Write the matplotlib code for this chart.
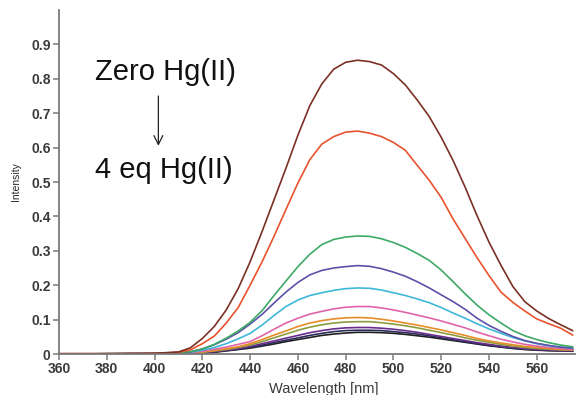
import numpy as np
import matplotlib.pyplot as plt

plt.rcParams['font.family'] = ['Liberation Sans', 'DejaVu Sans']

# wavelength grid (nm)
wl = [360, 370, 380, 390, 400, 405, 410, 415, 420, 425, 430, 435, 440, 445, 450, 455,
      460, 465, 470, 475, 480, 485, 490, 495, 500, 505, 510, 515, 520, 525, 530, 535,
      540, 545, 550, 555, 560, 565, 570, 575]

# emission intensities, zero Hg(II) -> 4 eq Hg(II)
zero_eq = [0.001, 0.001, 0.001, 0.002, 0.002, 0.004, 0.006, 0.018, 0.045, 0.080, 0.128, 0.190,
           0.268, 0.356, 0.448, 0.540, 0.636, 0.722, 0.785, 0.828, 0.848, 0.854, 0.850, 0.840,
           0.815, 0.782, 0.738, 0.690, 0.630, 0.562, 0.485, 0.402, 0.325, 0.258, 0.196, 0.152,
           0.125, 0.103, 0.085, 0.068]
s1 = [0.001, 0.001, 0.001, 0.001, 0.002, 0.003, 0.005, 0.012, 0.030, 0.052, 0.090, 0.135,
      0.200, 0.268, 0.342, 0.420, 0.497, 0.565, 0.610, 0.632, 0.645, 0.648, 0.642, 0.632,
      0.615, 0.592, 0.548, 0.505, 0.455, 0.392, 0.336, 0.280, 0.228, 0.180, 0.150, 0.125,
      0.102, 0.088, 0.075, 0.055]
s2 = [0.0, 0.0, 0.001, 0.001, 0.001, 0.002, 0.004, 0.007, 0.014, 0.028, 0.046, 0.067,
      0.092, 0.126, 0.170, 0.212, 0.254, 0.290, 0.318, 0.333, 0.340, 0.343, 0.342, 0.335,
      0.324, 0.310, 0.292, 0.272, 0.244, 0.210, 0.175, 0.142, 0.114, 0.090, 0.068, 0.053,
      0.042, 0.033, 0.026, 0.021]
s3 = [0.0, 0.0, 0.001, 0.001, 0.001, 0.001, 0.003, 0.006, 0.015, 0.027, 0.043, 0.062,
      0.087, 0.115, 0.148, 0.180, 0.208, 0.230, 0.243, 0.250, 0.254, 0.257, 0.255, 0.248,
      0.238, 0.226, 0.210, 0.192, 0.172, 0.152, 0.130, 0.104, 0.083, 0.066, 0.051, 0.039,
      0.031, 0.025, 0.020, 0.017]
s4 = [0.0, 0.0, 0.0, 0.001, 0.001, 0.001, 0.002, 0.005, 0.011, 0.019, 0.030, 0.044,
      0.060, 0.084, 0.112, 0.138, 0.157, 0.170, 0.178, 0.185, 0.190, 0.192, 0.191, 0.186,
      0.178, 0.170, 0.160, 0.149, 0.135, 0.119, 0.104, 0.088, 0.073, 0.060, 0.048, 0.038,
      0.030, 0.024, 0.020, 0.017]
s5 = [0.0, 0.0, 0.0, 0.001, 0.001, 0.001, 0.002, 0.004, 0.008, 0.014, 0.020, 0.028,
      0.036, 0.053, 0.072, 0.090, 0.104, 0.116, 0.124, 0.131, 0.136, 0.138, 0.138, 0.134,
      0.128, 0.121, 0.113, 0.105, 0.096, 0.086, 0.076, 0.064, 0.053, 0.043, 0.035, 0.028,
      0.023, 0.019, 0.016, 0.013]
s6 = [0.0, 0.0, 0.0, 0.0, 0.001, 0.001, 0.002, 0.003, 0.006, 0.010, 0.015, 0.021,
      0.030, 0.042, 0.055, 0.067, 0.080, 0.090, 0.097, 0.102, 0.105, 0.106, 0.105, 0.101,
      0.096, 0.090, 0.084, 0.077, 0.070, 0.062, 0.054, 0.045, 0.038, 0.032, 0.027, 0.022,
      0.019, 0.016, 0.013, 0.012]
s7 = [0.0, 0.0, 0.0, 0.0, 0.001, 0.001, 0.002, 0.003, 0.005, 0.009, 0.013, 0.019,
      0.026, 0.036, 0.047, 0.058, 0.069, 0.078, 0.085, 0.090, 0.093, 0.094, 0.094, 0.091,
      0.087, 0.082, 0.076, 0.069, 0.062, 0.055, 0.047, 0.040, 0.034, 0.028, 0.023, 0.019,
      0.016, 0.014, 0.012, 0.011]
s8 = [0.0, 0.0, 0.0, 0.0, 0.001, 0.001, 0.001, 0.002, 0.004, 0.007, 0.011, 0.016,
      0.022, 0.030, 0.038, 0.046, 0.054, 0.062, 0.068, 0.073, 0.076, 0.077, 0.077, 0.075,
      0.072, 0.068, 0.063, 0.057, 0.051, 0.045, 0.039, 0.033, 0.028, 0.023, 0.019, 0.016,
      0.013, 0.012, 0.010, 0.010]
s9 = [0.0, 0.0, 0.0, 0.0, 0.001, 0.001, 0.001, 0.002, 0.004, 0.006, 0.010, 0.014,
      0.019, 0.026, 0.033, 0.040, 0.047, 0.054, 0.060, 0.065, 0.068, 0.069, 0.069, 0.068,
      0.065, 0.062, 0.058, 0.053, 0.047, 0.041, 0.036, 0.030, 0.025, 0.021, 0.017, 0.014,
      0.012, 0.010, 0.009, 0.009]
four_eq = [0.0, 0.0, 0.0, 0.0, 0.001, 0.001, 0.001, 0.002, 0.003, 0.005, 0.009, 0.013,
           0.017, 0.023, 0.029, 0.036, 0.042, 0.048, 0.054, 0.058, 0.061, 0.063, 0.063, 0.062,
           0.060, 0.057, 0.053, 0.049, 0.044, 0.039, 0.034, 0.029, 0.024, 0.020, 0.016, 0.013,
           0.011, 0.010, 0.009, 0.008]

series = [zero_eq, s1, s2, s3, s4, s5, s6, s7, s8, s9, four_eq]
colors = ['#7b3024', '#e8522e', '#3daa66', '#5a52a8', '#40b8d8', '#e064a8',
          '#e88c28', '#8c9c3c', '#6a2c8c', '#2c2c5c', '#202020']

xticks = np.arange(360, 561, 20)
yticks = np.arange(0, 0.91, 0.1)
ytick_labels = ['0'] + ['%.1f' % v for v in yticks[1:]]

fig = plt.figure(figsize=(5.83, 3.95), dpi=100)
ax = fig.add_axes([59/583, 1-354/395, 516/583, 344/395])

# lowest curve first so the strongest sits on top
for y, c in reversed(list(zip(series, colors))):
    ax.plot(wl, y, color=c, linewidth=1.2)

ax.set_xlim(360, 576)
ax.set_ylim(0, 1.0)
ax.spines[['right', 'top']].set_visible(False)
for sp in ['left', 'bottom']:
    ax.spines[sp].set_color('#7a7a7a')
    ax.spines[sp].set_linewidth(1.3)
ax.xaxis.set_ticks(xticks)
ax.yaxis.set_ticks(yticks)
ax.set_yticklabels(ytick_labels)
ax.tick_params(direction='out', length=4, width=1.1, color='#7a7a7a',
               labelsize=10, labelcolor='#3a3a3a', pad=2)
for lab in ax.get_xticklabels() + ax.get_yticklabels():
    lab.set_fontweight('bold')

ax.set_xlabel('Wavelength [nm]', fontsize=10.5, color='#3a3a3a')
ax.xaxis.set_label_coords((324 - 59) / 516, -0.08)
ax.set_ylabel('Intensity', fontsize=7.5, color='#2a2a2a', labelpad=7)

ax.text(375, 0.797, 'Zero Hg(II)', fontsize=21, va='baseline', ha='left', color='#111111')
ax.text(375, 0.512, '4 eq Hg(II)', fontsize=21, va='baseline', ha='left', color='#111111')
ax.annotate('', xy=(401.6, 0.605), xytext=(401.6, 0.75),
            arrowprops=dict(arrowstyle='->', color='#222222', lw=0.9,
                            mutation_scale=16, shrinkA=0, shrinkB=0))

plt.savefig('out.png', dpi=100)
